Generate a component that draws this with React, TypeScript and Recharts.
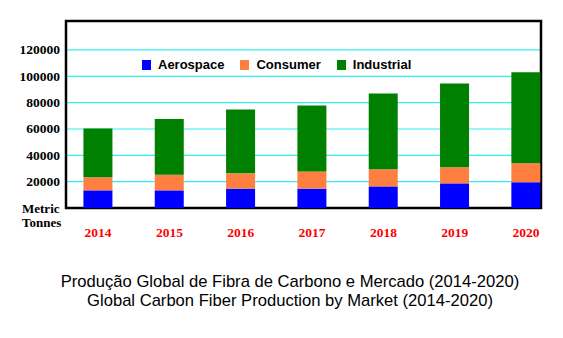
import { Bar, BarChart, CartesianGrid, Legend, ReferenceArea, XAxis, YAxis } from "recharts";

const YEARS = ["2014", "2015", "2016", "2017", "2018", "2019", "2020"];
const AEROSPACE = [13400, 13400, 14700, 14700, 16400, 18700, 19500];
const CONSUMER = [9900, 11900, 11600, 13100, 13000, 12200, 14400];
const INDUSTRIAL = [37000, 42300, 48500, 50000, 57500, 63600, 69200];
const Y_TICKS = [0, 20000, 40000, 60000, 80000, 100000, 120000];
const TITLE_PT = "Produção Global de Fibra de Carbono e Mercado (2014-2020)";
const TITLE_EN = "Global Carbon Fiber Production by Market (2014-2020)";

const SERIES = [
  { key: "aerospace", name: "Aerospace", color: "#0000ff" },
  { key: "consumer", name: "Consumer", color: "#ff7f40" },
  { key: "industrial", name: "Industrial", color: "#008000" },
];

const X_DOMAIN: [number, number] = [-0.45, 6.21];
const Y_DOMAIN: [number, number] = [0, 142000];

const SERIF = '"Liberation Serif", "Times New Roman", serif';
const SANS = '"Liberation Sans", Arial, sans-serif';

const data = YEARS.map((year, i) => ({
  idx: i,
  year,
  aerospace: AEROSPACE[i],
  consumer: CONSUMER[i],
  industrial: INDUSTRIAL[i],
}));

function YTick(props: any) {
  const { x, y, payload } = props;
  if (payload.value === 0) {
    return (
      <g fontFamily={SERIF} fontWeight="bold" fontSize={13} fill="#000">
        <text x={x - 38} y={y} dominantBaseline="central">
          Metric
        </text>
        <text x={x - 38} y={y + 14} dominantBaseline="central">
          Tonnes
        </text>
      </g>
    );
  }
  return (
    <text
      x={x}
      y={y}
      textAnchor="end"
      dominantBaseline="central"
      fontFamily={SERIF}
      fontWeight="bold"
      fontSize={13.5}
      fill="#000"
    >
      {payload.value}
    </text>
  );
}

function XTick(props: any) {
  const { x, y, payload } = props;
  return (
    <text
      x={x}
      y={y + 16}
      textAnchor="middle"
      dominantBaseline="central"
      fontFamily={SERIF}
      fontWeight="bold"
      fontSize={13.5}
      fill="#ff0000"
    >
      {YEARS[payload.value]}
    </text>
  );
}

function LegendBox() {
  return (
    <div style={{ display: "flex", alignItems: "center", fontFamily: SANS, fontWeight: "bold", fontSize: 13 }}>
      {SERIES.map((s) => (
        <div key={s.key} style={{ display: "flex", alignItems: "center", marginRight: 16 }}>
          <span style={{ width: 9, height: 10, background: s.color, marginRight: 7 }} />
          <span>{s.name}</span>
        </div>
      ))}
    </div>
  );
}

export default function App() {
  return (
    <div style={{ position: "relative", width: 563, height: 338, margin: -8, background: "#fff" }}>
      <BarChart
        width={563}
        height={338}
        data={data}
        margin={{ top: 21, right: 22, bottom: 90, left: 0 }}
      >
        <CartesianGrid horizontal vertical={false} stroke="#30eeee" strokeWidth={1.2} />
        <XAxis
          dataKey="idx"
          type="number"
          domain={X_DOMAIN}
          ticks={[0, 1, 2, 3, 4, 5, 6]}
          allowDataOverflow
          axisLine={false}
          tickLine={false}
          tick={<XTick />}
          height={40}
        />
        <YAxis
          type="number"
          domain={Y_DOMAIN}
          ticks={Y_TICKS}
          allowDataOverflow
          axisLine={false}
          tickLine={false}
          tickMargin={0}
          tick={<YTick />}
          width={66}
        />
        <Legend
          verticalAlign="middle"
          align="center"
          layout="horizontal"
          content={<LegendBox />}
          wrapperStyle={{ top: 57, left: 142, width: "auto", height: "auto" }}
        />
        {SERIES.map((s) => (
          <Bar
            key={s.key}
            dataKey={s.key}
            name={s.name}
            stackId="a"
            fill={s.color}
            barSize={29}
            isAnimationActive={false}
          />
        ))}
        <ReferenceArea
          x1={X_DOMAIN[0]}
          x2={X_DOMAIN[1]}
          y1={Y_DOMAIN[0]}
          y2={Y_DOMAIN[1]}
          fill="none"
          fillOpacity={0}
          stroke="#000"
          strokeWidth={2.5}
          ifOverflow="visible"
        />
      </BarChart>
      <div
        style={{
          position: "absolute",
          top: 272,
          left: 0,
          width: 580,
          textAlign: "center",
          fontFamily: SANS,
          fontSize: 16.6,
          lineHeight: "19px",
          color: "#000",
        }}
      >
        <div>{TITLE_PT}</div>
        <div>{TITLE_EN}</div>
      </div>
    </div>
  );
}
